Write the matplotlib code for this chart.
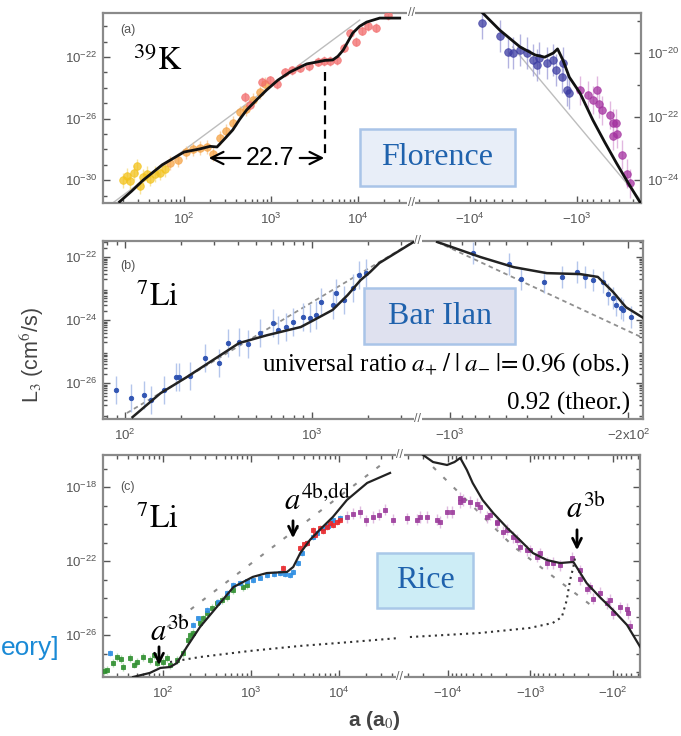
import numpy as np
import matplotlib
matplotlib.use("Agg")
import matplotlib.pyplot as plt
from matplotlib.ticker import FixedLocator, FixedFormatter, NullFormatter, LogLocator
from matplotlib.patches import Rectangle, FancyArrowPatch
from matplotlib.lines import Line2D

plt.rcParams['mathtext.fontset'] = 'stix'
plt.rcParams['font.family'] = ['Liberation Sans', 'DejaVu Sans']

# ======================= DATA (log10 values) =======================
# ---- panel (a): 39K, Florence ----
a_th_pos_loga = [1.26, 1.40, 1.53, 1.75, 2.0, 2.18, 2.30, 2.38, 2.47, 2.56, 2.64, 2.72, 2.84, 2.95, 3.08, 3.22, 3.41, 3.53, 3.62, 3.71, 3.77, 3.83, 3.89, 3.94, 4.02, 4.10, 4.25, 4.48]
a_th_pos_logL = [-31.4, -30.7, -30.0, -29.0, -28.17, -27.97, -27.80, -27.84, -27.30, -26.74, -26.05, -25.44, -24.75, -24.14, -23.50, -22.97, -22.45, -22.32, -22.22, -22.19, -21.95, -21.55, -20.95, -20.44, -20.00, -19.73, -19.47, -19.47]
a_gray_pos_loga = [1.18, 4.02]
a_gray_pos_logL = [-31.48, -19.6]

a_yellow_loga = [1.30, 1.34, 1.38, 1.43, 1.46, 1.49, 1.53, 1.57, 1.61, 1.67, 1.72, 1.78]
a_yellow_logL = [-30.0, -29.7, -30.05, -29.5, -29.1, -30.4, -29.8, -29.6, -29.9, -29.6, -29.5, -29.3]
a_orange_loga = [1.84, 1.93, 2.02, 2.10, 2.18, 2.26, 2.33, 2.41, 2.48, 2.56, 2.64, 2.71, 2.79, 2.87, 2.93]
a_orange_logL = [-28.9, -28.7, -28.2, -28.0, -27.9, -27.85, -28.3, -27.25, -26.8, -26.3, -25.6, -25.4, -24.8, -24.3, -23.75]
a_red_loga = [2.70, 2.76, 2.90, 2.99, 3.07, 3.16, 3.24, 3.33, 3.44, 3.54, 3.61, 3.68, 3.76, 3.84, 3.91, 3.98, 4.05, 4.11, 4.21, 4.34]
a_red_logL = [-24.6, -25.1, -23.6, -23.5, -23.75, -23.0, -22.85, -22.7, -22.6, -22.3, -22.25, -22.25, -22.2, -21.4, -20.45, -21.0, -20.3, -20.0, -20.1, -19.3]

a_th_neg_logabs = [3.88, 3.72, 3.53, 3.39, 3.30, 3.22, 3.18, 3.13, 3.07, 2.97, 2.85, 2.74, 2.63, 2.52, 2.41]
a_th_neg_logL = [-18.74, -19.28, -19.81, -20.06, -20.13, -20.0, -19.87, -20.22, -20.76, -21.26, -22.11, -22.80, -23.46, -24.09, -24.69]
a_gray_neg_logabs = [3.60, 2.41]
a_gray_neg_logL = [-19.81, -24.6]
a_navy_logabs = [3.89, 3.72, 3.64, 3.60, 3.53, 3.47, 3.41, 3.37, 3.35, 3.28, 3.22, 3.19, 3.14, 3.13, 3.09, 3.07]
a_navy_logL = [-19.06, -19.46, -19.97, -20.0, -19.9, -20.0, -20.22, -20.38, -20.16, -20.31, -20.22, -20.54, -20.76, -20.31, -21.17, -21.26]
a_mag_logabs = [2.97, 2.90, 2.81, 2.85, 2.79, 2.76, 2.69, 2.66, 2.63, 2.66, 2.62, 2.58, 2.53, 2.50]
a_mag_logL = [-21.17, -21.33, -21.17, -21.48, -21.59, -21.80, -21.95, -22.2, -22.2, -22.6, -22.55, -23.2, -23.8, -24.1]

# ---- panel (b): 7Li, Bar Ilan ----
b_th_pos_loga = [2.04, 2.19, 2.33, 2.47, 2.61, 2.76, 2.94, 3.01, 3.11, 3.19, 3.26, 3.31, 3.36, 3.56]
b_th_pos_logL = [-27.08, -26.32, -25.81, -25.27, -24.73, -24.48, -24.22, -24.0, -23.68, -23.21, -22.73, -22.48, -22.19, -21.46]
b_dash_pos_loga = [2.01, 3.54]
b_dash_pos_logL = [-26.95, -21.52]
b_pts_pos_loga = [1.95, 2.03, 2.10, 2.14, 2.21, 2.27, 2.29, 2.35, 2.43, 2.50, 2.55, 2.61, 2.66, 2.72, 2.79, 2.82, 2.86, 2.90, 2.95, 2.99, 3.02, 3.05, 3.11, 3.13, 3.17, 3.22, 3.25, 3.29]
b_pts_pos_logL = [-26.22, -26.48, -26.38, -26.54, -26.22, -25.81, -25.81, -25.78, -25.21, -25.37, -24.73, -24.70, -24.76, -24.41, -24.10, -24.32, -24.22, -24.06, -23.90, -23.94, -23.84, -23.43, -23.52, -23.14, -23.37, -22.98, -22.57, -22.51]
b_th_neg_logabs = [3.05, 2.88, 2.75, 2.62, 2.49, 2.42, 2.36, 2.31, 2.24]
b_th_neg_logL = [-21.52, -22.0, -22.32, -22.51, -22.54, -22.63, -23.11, -23.59, -23.94]
b_dash_neg_logabs = [3.05, 2.25]
b_dash_neg_logL = [-21.52, -24.54]
b_pts_neg_logabs = [2.91, 2.77, 2.72, 2.63, 2.56, 2.50, 2.47, 2.44, 2.40, 2.38, 2.36, 2.35, 2.33, 2.32, 2.29]
b_pts_neg_logL = [-21.87, -22.22, -22.70, -22.79, -22.63, -22.48, -22.63, -22.73, -22.79, -23.17, -23.30, -23.52, -23.62, -23.68, -23.90]

# ---- panel (c): 7Li, Rice ----
c_th_pos_loga = [1.66, 1.85, 1.97, 2.08, 2.16, 2.27, 2.42, 2.61, 2.80, 3.02, 3.18, 3.41, 3.48, 3.56, 3.67, 3.78, 3.93, 4.09, 4.32, 4.58]
c_th_pos_logL = [-28.27, -28.05, -27.78, -27.73, -27.51, -26.65, -25.57, -24.49, -23.41, -22.86, -22.65, -22.59, -22.32, -21.57, -20.86, -20.32, -19.62, -18.70, -17.78, -17.24]
c_dash_pos_loga = [2.05, 4.55]
c_dash_pos_logL = [-25.57, -16.54]
c_dot_pos_loga = [2.08, 2.42, 2.99, 3.56, 4.13, 4.69]
c_dot_pos_logL = [-27.46, -27.19, -26.86, -26.59, -26.38, -26.16]
c_green_loga = [1.36, 1.43, 1.48, 1.55, 1.63, 1.70, 1.77, 1.85, 1.93, 2.00, 2.08, 2.16, 2.23, 2.28, 2.34, 2.42, 2.50, 2.61, 2.73, 2.80, 2.91, 2.95, 1.33, 1.52, 1.67, 1.90, 2.05, 2.31, 2.46, 2.56, 2.67]
c_green_logL = [-27.89, -27.51, -27.19, -27.73, -27.24, -27.46, -27.19, -27.35, -27.51, -27.46, -27.62, -27.35, -26.97, -26.27, -25.89, -25.35, -24.81, -24.27, -23.95, -23.57, -23.41, -23.30, -27.95, -27.3, -27.6, -27.1, -27.25, -26.0, -25.1, -24.55, -24.1]
c_blue_loga = [1.40, 2.34, 2.50, 2.73, 2.80, 2.88, 3.02, 3.18, 3.33, 3.44, 3.48, 3.53, 3.58, 3.64, 3.70, 3.82, 3.93, 4.01, 2.40, 2.62, 2.95, 3.10, 3.26, 3.39, 3.75, 3.87]
c_blue_logL = [-26.97, -25.46, -24.65, -23.73, -23.30, -23.19, -23.03, -22.76, -22.65, -22.76, -22.59, -22.11, -21.57, -21.03, -20.70, -20.22, -19.78, -19.68, -25.1, -24.2, -23.1, -22.9, -22.7, -22.7, -20.5, -20.1]
c_red_loga = [3.36, 3.56, 3.64, 3.70, 3.78, 3.86, 3.93, 3.98, 4.01, 3.60, 3.73, 3.82, 3.90]
c_red_logL = [-22.38, -21.30, -21.03, -20.32, -20.22, -20.16, -20.05, -19.89, -19.78, -21.1, -20.6, -20.4, -19.95]
c_mag_pos_loga = [4.09, 4.24, 4.39, 4.52, 4.61, 4.16, 4.31, 4.46]
c_mag_pos_logL = [-19.62, -19.35, -19.62, -19.24, -19.78, -19.45, -19.8, -19.5]
c_th_neg_logabs = [4.30, 4.18, 4.01, 3.92, 3.85, 3.77, 3.70, 3.58, 3.45, 3.28, 3.13, 2.97, 2.80, 2.64, 2.48, 2.32, 2.16, 2.00, 1.83, 1.67]
c_th_neg_logL = [-16.27, -16.65, -16.81, -16.65, -16.43, -17.08, -17.78, -18.70, -19.41, -20.22, -20.86, -21.57, -21.95, -22.11, -22.05, -23.19, -23.95, -24.65, -25.46, -26.65]
c_dash_neg_logabs = [4.18, 3.21, 2.19]
c_dash_neg_logL = [-16.92, -21.2, -24.65]
c_dot_neg_logabs = [4.46, 3.61, 3.01, 2.73, 2.62, 2.56, 2.52, 2.48, 2.46]
c_dot_neg_logL = [-26.11, -25.89, -25.62, -25.35, -25.03, -24.11, -23.03, -22.32, -21.84]
c_mag_neg_logabs = [4.50, 4.34, 4.13, 4.01, 3.85, 3.73, 3.61, 3.49, 3.41, 3.28, 3.16, 3.04, 2.92, 2.80, 2.64, 2.50, 2.40, 2.28, 2.16, 2.04, 1.92, 1.82,
                    3.82, 3.65, 3.53, 3.41, 3.33, 3.21, 3.13, 3.01, 2.88, 2.73, 2.40, 2.32, 2.24, 2.07, 2.00, 1.83, 1.79,
                    4.38, 4.25, 4.10, 3.95, 3.85]
c_mag_neg_logL = [-19.68, -19.62, -19.78, -19.35, -18.81, -18.81, -19.08, -19.51, -19.89, -20.32, -20.86, -21.41, -21.78, -22.11, -22.22, -21.84, -22.49, -23.41, -23.73, -24.11, -24.49, -24.81,
                  -18.70, -18.92, -19.62, -19.95, -20.43, -20.70, -21.24, -21.41, -21.57, -22.11, -22.97, -23.51, -24.05, -24.27, -24.81, -24.59, -25.51,
                  -19.78, -19.62, -19.89, -19.35, -18.59]

# tick labels
pos_xticks_a = [2, 3, 4]
neg_xticks_a = [4, 3]
pos_xticks_b = [2, 3]
neg_xticks_b = [1000, 200]
neg_xlabels_b = [r'$\mathdefault{-10^{3}}$', r'$\mathdefault{-2x10^{2}}$']
pos_xticks_c = [2, 3, 4]
neg_xticks_c = [4, 3, 2]
yticks_a_left = [-30, -26, -22]
yticks_a_right = [-24, -22, -20]
yticks_b = [-26, -24, -22]
yticks_c = [-26, -22, -18]

# ======================= FIGURE =======================
W, H = 681, 736
fig = plt.figure(figsize=(W / 100, H / 100), dpi=100)

def rect(l, r, t, b):
    return [l / W, 1 - b / H, (r - l) / W, (b - t) / H]

def fp(x, y):
    return (x / W, 1 - y / H)

FRAME = '#8a8a8a'
TICKC = '#555555'

def style(ax, side, top_ticks=True):
    for s in ax.spines.values():
        s.set_color(FRAME)
        s.set_linewidth(1.6)
    if side == 'L':
        ax.spines['right'].set_visible(False)
        ax.tick_params(axis='y', which='both', left=True, right=False, labelleft=True, labelright=False)
    else:
        ax.spines['left'].set_visible(False)
        ax.tick_params(axis='y', which='both', left=False, right=True, labelleft=False, labelright=False)
    ax.tick_params(axis='both', which='both', direction='in', colors=TICKC, labelsize=9.5, width=1.0)
    ax.tick_params(axis='x', which='both', top=top_ticks, bottom=True)
    ax.tick_params(which='major', length=5)
    ax.tick_params(which='minor', length=3)
    ax.tick_params(axis='x', which='major', pad=6)
    ax.tick_params(axis='y', which='major', pad=4)

def sup(v):
    return r'$\mathdefault{10^{%d}}$' % v

def negsup(v):
    return r'$\mathdefault{-10^{%d}}$' % v

def set_logy(ax, lo, hi, labeled, allmin):
    ax.set_yscale('log')
    ax.set_ylim(10.0 ** lo, 10.0 ** hi)
    ax.yaxis.set_major_locator(FixedLocator([10.0 ** v for v in labeled]))
    ax.yaxis.set_major_formatter(FixedFormatter([sup(v) for v in labeled]))
    ax.yaxis.set_minor_locator(FixedLocator([10.0 ** v for v in allmin]))
    ax.yaxis.set_minor_formatter(NullFormatter())

def set_logx(ax, lo, hi, ticks, labels):
    ax.set_xscale('log')
    ax.set_xlim(10.0 ** lo, 10.0 ** hi)
    ax.xaxis.set_major_locator(FixedLocator(ticks))
    ax.xaxis.set_major_formatter(FixedFormatter(labels))
    ax.xaxis.set_minor_locator(LogLocator(base=10, subs=np.arange(2, 10)))
    ax.xaxis.set_minor_formatter(NullFormatter())

def P(lst):
    return 10.0 ** np.asarray(lst, dtype=float)

def pts(ax, lx, ly, color, ecolor, ms, e, marker='o', alpha=0.85, mew=0.6):
    x, y = P(lx), P(ly)
    ax.errorbar(x, y, yerr=[y - y * 10.0 ** (-e), y * 10.0 ** e - y], fmt=marker, ms=ms,
                mfc=color, mec=color, mew=mew, ecolor=ecolor, elinewidth=1.0, capsize=0,
                alpha=alpha, zorder=3)

def breakmark(x, y):
    fig.text(x / W, 1 - y / H, '//', ha='center', va='center', fontsize=9, color='#666666',
             bbox=dict(fc='white', ec='none', pad=0.3), zorder=10)

# ---------------- panel (a) ----------------
aL = fig.add_axes(rect(103, 411, 13, 203))
aR = fig.add_axes(rect(411, 641, 13, 203))
style(aL, 'L', top_ticks=False)
style(aR, 'R', top_ticks=False)
set_logx(aL, 1.069, 4.61, [10.0 ** v for v in pos_xticks_a], [sup(v) for v in pos_xticks_a])
set_logx(aR, 4.55, 2.40, [10.0 ** v for v in neg_xticks_a], [negsup(v) for v in neg_xticks_a])
set_logy(aL, -31.48, -19.14, yticks_a_left, [-31, -29, -28, -27, -25, -24, -23, -21, -20])
aR.set_yscale('log')
aR.set_ylim(10.0 ** -24.72, 10.0 ** -18.74)
aR.yaxis.set_major_locator(FixedLocator([10.0 ** v for v in yticks_a_right]))
aR.yaxis.set_major_formatter(FixedFormatter([sup(v) for v in yticks_a_right]))
aR.yaxis.set_minor_locator(FixedLocator([10.0 ** v for v in [-23, -21, -19]]))
aR.yaxis.set_minor_formatter(NullFormatter())
aR.tick_params(axis='y', which='both', labelright=True)

aL.plot(P(a_gray_pos_loga), P(a_gray_pos_logL), color='#bdbdbd', lw=1.0, zorder=1)
pts(aL, a_yellow_loga, a_yellow_logL, '#f3c21a', '#f7dc7a', 5.5, 0.5, alpha=0.75)
pts(aL, a_orange_loga, a_orange_logL, '#f5a244', '#f8c58a', 5.5, 0.45, alpha=0.75)
pts(aL, a_red_loga, a_red_logL, '#f26b6b', '#f6a8a8', 5.5, 0.3, alpha=0.75)
aL.plot(P(a_th_pos_loga), P(a_th_pos_logL), color='#111111', lw=2.0, zorder=4)

aR.plot(P(a_gray_neg_logabs), P(a_gray_neg_logL), color='#bdbdbd', lw=1.0, zorder=1)
pts(aR, a_navy_logabs, a_navy_logL, '#3c3ca2', '#9a9ad6', 5.5, 0.5, alpha=0.75)
pts(aR, a_mag_logabs, a_mag_logL, '#a3309f', '#d9a0d6', 5.5, 0.45, alpha=0.75)
aR.plot(P(a_th_neg_logabs), P(a_th_neg_logL), color='#111111', lw=2.0, zorder=4)

# ---------------- panel (b) ----------------
bL = fig.add_axes(rect(103, 418, 241, 419))
bR = fig.add_axes(rect(418, 643, 241, 419))
style(bL, 'L')
style(bR, 'R')
set_logx(bL, 1.882, 3.567, [10.0 ** v for v in pos_xticks_b], [sup(v) for v in pos_xticks_b])
set_logx(bR, 3.125, 2.243, neg_xticks_b, neg_xlabels_b)
for ax in (bL, bR):
    set_logy(ax, -27.14, -21.49, yticks_b, [-27, -25, -23])
    ax.yaxis.set_minor_locator(LogLocator(base=10, subs=np.arange(2, 10), numticks=30))
bR.yaxis.set_major_formatter(NullFormatter())

bL.plot(P(b_dash_pos_loga), P(b_dash_pos_logL), color='#909090', lw=1.3, ls=(0, (2.5, 2)), zorder=1)
pts(bL, b_pts_pos_loga, b_pts_pos_logL, '#2a4fb0', '#b0c3ea', 3.2, 0.45, alpha=0.95)
bL.plot(P(b_th_pos_loga), P(b_th_pos_logL), color='#222222', lw=1.8, zorder=4)
bR.plot(P(b_dash_neg_logabs), P(b_dash_neg_logL), color='#909090', lw=1.3, ls=(0, (2.5, 2)), zorder=1)
pts(bR, b_pts_neg_logabs, b_pts_neg_logL, '#2a4fb0', '#b0c3ea', 3.2, 0.35, alpha=0.95)
bR.plot(P(b_th_neg_logabs), P(b_th_neg_logL), color='#222222', lw=1.8, zorder=4)

# ---------------- panel (c) ----------------
cL = fig.add_axes(rect(103, 400, 455, 677))
cR = fig.add_axes(rect(400, 640, 455, 677))
style(cL, 'L')
style(cR, 'R')
set_logx(cL, 1.318, 4.693, [10.0 ** v for v in pos_xticks_c], [sup(v) for v in pos_xticks_c])
set_logx(cR, 4.58, 1.673, [10.0 ** v for v in neg_xticks_c], [negsup(v) for v in neg_xticks_c])
for ax in (cL, cR):
    set_logy(ax, -28.27, -16.27, yticks_c, [-28, -27, -25, -24, -23, -21, -20, -19, -17])
cR.yaxis.set_major_formatter(NullFormatter())

cL.plot(P(c_dash_pos_loga), P(c_dash_pos_logL), color='#8c8c8c', lw=1.5, ls=(0, (2, 5)), zorder=1)
pts(cL, c_green_loga, c_green_logL, '#2f8f2f', '#a8d4a8', 2.6, 0.2, marker='s', alpha=0.9)
pts(cL, c_blue_loga, c_blue_logL, '#2a8ce2', '#a4cff2', 2.6, 0.15, marker='s', alpha=0.9)
pts(cL, c_red_loga, c_red_logL, '#e8262a', '#f4a0a0', 2.8, 0.15, marker='s', alpha=0.9)
pts(cL, c_mag_pos_loga, c_mag_pos_logL, '#9b3a9b', '#dcb4dc', 2.4, 0.3, marker='s', alpha=0.9)
cL.plot(P(c_th_pos_loga), P(c_th_pos_logL), color='#222222', lw=1.6, zorder=4)
cL.plot(P(c_dot_pos_loga), P(c_dot_pos_logL), color='#333333', lw=1.5, ls=(0, (1, 2)), zorder=4)

cR.plot(P(c_dash_neg_logabs), P(c_dash_neg_logL), color='#8c8c8c', lw=1.5, ls=(0, (2, 5)), zorder=1)
pts(cR, c_mag_neg_logabs, c_mag_neg_logL, '#9b3a9b', '#dcb4dc', 2.6, 0.3, marker='s', alpha=0.9)
cR.plot(P(c_th_neg_logabs), P(c_th_neg_logL), color='#222222', lw=1.6, zorder=4)
cR.plot(P(c_dot_neg_logabs), P(c_dot_neg_logL), color='#333333', lw=1.5, ls=(0, (1, 2)), zorder=4)

# break marks
for (xb, yt, yb) in [(411, 13, 203), (418, 241, 419), (400, 455, 677)]:
    breakmark(xb, yt)
    breakmark(xb, yb)

# ---------------- texts & annotations ----------------
GRAY = '#555555'
fig.text(*fp(120, 30), '(a)', fontsize=9, color=GRAY, va='center')
fig.text(*fp(120, 266), '(b)', fontsize=9, color=GRAY, va='center')
fig.text(*fp(120, 487), '(c)', fontsize=9, color=GRAY, va='center')

fig.text(*fp(133, 62), r'$^{39}\mathrm{K}$', fontsize=23, color='black', va='center')
fig.text(*fp(136, 298), r'$^{7}\mathrm{Li}$', fontsize=23, color='black', va='center')
fig.text(*fp(136, 520), r'$^{7}\mathrm{Li}$', fontsize=23, color='black', va='center')

# 22.7 arrow
fig.text(*fp(270, 158), '22.7', fontsize=18, color='black', ha='center', va='center')
arr = dict(arrowstyle='->', lw=1.6, color='black', mutation_scale=22)
fig.add_artist(FancyArrowPatch(fp(243, 158), fp(206, 158), transform=fig.transFigure, **arr))
fig.add_artist(FancyArrowPatch(fp(297, 158), fp(327, 158), transform=fig.transFigure, **arr))
fig.add_artist(Line2D([325 / W, 325 / W], [1 - 72 / H, 1 - 156 / H], transform=fig.transFigure,
                      color='black', lw=1.6, ls=(0, (4, 2.5))))

def label_box(l, r, t, b, fc, ec, txt):
    fig.add_artist(Rectangle((l / W, 1 - b / H), (r - l) / W, (b - t) / H, transform=fig.transFigure,
                             fc=fc, ec=ec, lw=1.8, zorder=6))
    fig.text((l + r) / 2 / W, 1 - (t + b) / 2 / H, txt, fontsize=23, color='#1f62ad', ha='center',
             va='center', family='Liberation Serif', zorder=7)

label_box(360, 515, 129, 186, '#e8eef8', '#a9c4e8', 'Florence')
label_box(364, 515, 288, 344, '#dfe1ef', '#a9c4e8', 'Bar Ilan')
label_box(377, 473, 553, 608, '#cdedf6', '#a9c8e8', 'Rice')

fig.text(*fp(630, 365), r'universal ratio $a_{+}\;/\;|\;a_{-}\;|\!=0.96$ (obs.)', fontsize=18,
         family='Liberation Serif', ha='right', va='center', color='black', zorder=8)
fig.text(*fp(630, 403), '0.92 (theor.)', fontsize=18, family='Liberation Serif', ha='right',
         va='center', color='black', zorder=8)

fig.text(*fp(284, 502), r'$a^{\mathrm{4b{,}dd}}$', fontsize=22, ha='left', va='center', color='black', zorder=8)
fig.text(*fp(150, 633), r'$a^{\mathrm{3b}}$', fontsize=22, ha='left', va='center', color='black', zorder=8)
fig.text(*fp(566, 510), r'$a^{\mathrm{3b}}$', fontsize=22, ha='left', va='center', color='black', zorder=8)
darr = dict(arrowstyle='->', lw=2.0, color='black', mutation_scale=16)
for (xa, y0, y1) in [(293, 518, 541), (159, 644, 668), (577, 527, 553)]:
    fig.add_artist(FancyArrowPatch(fp(xa, y0), fp(xa, y1), transform=fig.transFigure, zorder=8, **darr))

fig.text(*fp(60, 648), 'eory]', fontsize=19, ha='right', va='center', color='#1a8ad6')

fig.text(*fp(32, 355), r'L$_3$ (cm$^6$/s)', fontsize=15.5, rotation=90, ha='center', va='center', color='#444444')
fig.text(*fp(374, 721), r'a (a$_0$)', fontsize=15, ha='center', va='center', color='#444444', weight='bold')

fig.savefig('out.png', dpi=100)
